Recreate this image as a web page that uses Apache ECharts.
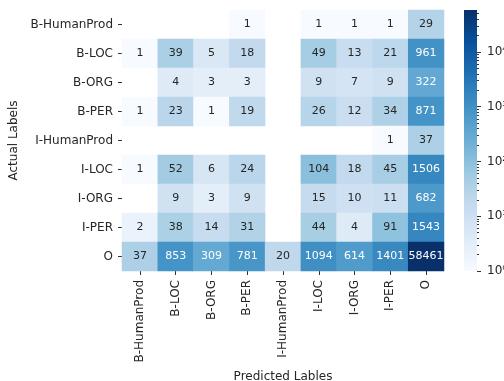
<!DOCTYPE html>
<html>
<head>
<meta charset="utf-8">
<script src="https://cdn.jsdelivr.net/npm/echarts@6/dist/echarts.min.js"></script>
<style>
  html, body { margin: 0; padding: 0; background: #ffffff; overflow: hidden; }
  #chart { width: 504px; height: 381px; }
</style>
</head>
<body>
<div id="chart"></div>
<script>
// Entity tag classes, used for both axes (predicted = columns, actual = rows)
const tagLabels = ['B-HumanProd', 'B-LOC', 'B-ORG', 'B-PER', 'I-HumanProd', 'I-LOC', 'I-ORG', 'I-PER', 'O'];

// Confusion counts, one array per actual label (0 = empty cell)
const actualBHumanProd = [0, 0, 0, 1, 0, 1, 1, 1, 29];
const actualBLOC       = [1, 39, 5, 18, 0, 49, 13, 21, 961];
const actualBORG       = [0, 4, 3, 3, 0, 9, 7, 9, 322];
const actualBPER       = [1, 23, 1, 19, 0, 26, 12, 34, 871];
const actualIHumanProd = [0, 0, 0, 0, 0, 0, 0, 1, 37];
const actualILOC       = [1, 52, 6, 24, 0, 104, 18, 45, 1506];
const actualIORG       = [0, 9, 3, 9, 0, 15, 10, 11, 682];
const actualIPER       = [2, 38, 14, 31, 0, 44, 4, 91, 1543];
const actualO          = [37, 853, 309, 781, 20, 1094, 614, 1401, 58461];

const countRows = [actualBHumanProd, actualBLOC, actualBORG, actualBPER, actualIHumanProd,
                   actualILOC, actualIORG, actualIPER, actualO];

// Colour bar decades (10^0 .. 10^4)
const colorbarDecades = [0, 1, 2, 3, 4];

// Matplotlib "Blues" colour map anchors
const blues = ['#f7fbff', '#deebf7', '#c6dbef', '#9ecae1', '#6baed6', '#4292c6', '#2171b5', '#08519c', '#08306b'];

const allCounts = countRows.flat().filter(v => v > 0);
const logMin = Math.log10(Math.min(...allCounts));
const logMax = Math.log10(Math.max(...allCounts));

function hexToRgb(h) {
  return [parseInt(h.slice(1, 3), 16), parseInt(h.slice(3, 5), 16), parseInt(h.slice(5, 7), 16)];
}
function bluesAt(t) {
  t = Math.max(0, Math.min(1, t));
  const pos = t * (blues.length - 1);
  const i = Math.min(Math.floor(pos), blues.length - 2);
  const f = pos - i;
  const a = hexToRgb(blues[i]), b = hexToRgb(blues[i + 1]);
  return a.map((c, k) => c + (b[k] - c) * f);
}
// Relative luminance decides dark or light annotation text
function luminance(rgb) {
  const lin = rgb.map(c => {
    c /= 255;
    return c <= 0.03928 ? c / 12.92 : Math.pow((c + 0.055) / 1.055, 2.4);
  });
  return 0.2126 * lin[0] + 0.7152 * lin[1] + 0.0722 * lin[2];
}

// Heatmap cells: [column, row, log10(count), count]; empty cells are left out
const cells = [];
countRows.forEach((row, r) => {
  row.forEach((v, c) => {
    if (v <= 0) return;
    const lv = Math.log10(v);
    const t = (lv - logMin) / (logMax - logMin);
    const lum = luminance(bluesAt(t));
    cells.push({
      value: [c, r, lv, v],
      label: { color: lum > 0.408 ? '#262626' : '#ffffff' }
    });
  });
});

// Minor ticks of the log colour bar: 2..9 x 10^n
const minorTicks = [];
for (let n = 0; n <= 4; n++) {
  for (let k = 2; k <= 9; k++) {
    const lv = Math.log10(k * Math.pow(10, n));
    if (lv < logMax) minorTicks.push(lv);
  }
}

const supDigits = ['\u2070', '\u00b9', '\u00b2', '\u00b3', '\u2074', '\u2075'];
const font = 'DejaVu Sans';
const textColor = '#262626';
const tickColor = '#333333';

const chart = echarts.init(document.getElementById('chart'), null, { renderer: 'canvas' });

// Colour bar fill: the same Blues ramp, bottom (1) to top (max)
const colorbarFill = new echarts.graphic.LinearGradient(0, 1, 0, 0,
  blues.map((c, i) => ({ offset: i / (blues.length - 1), color: c })));

chart.setOption({
  animation: false,
  backgroundColor: '#ffffff',
  textStyle: { fontFamily: font },
  grid: [
    { left: 122, top: 10, width: 322, height: 261, outerBoundsMode: 'none' },
    { left: 464, top: 10, width: 13, height: 261, outerBoundsMode: 'none' }
  ],
  xAxis: [
    {
      type: 'category',
      gridIndex: 0,
      data: tagLabels,
      name: 'Predicted Lables',
      nameLocation: 'middle',
      nameGap: 94,
      nameTextStyle: { fontFamily: font, fontSize: 12, color: textColor },
      axisLine: { show: false },
      axisTick: { show: true, alignWithLabel: true, length: 4, lineStyle: { color: tickColor } },
      axisLabel: { rotate: 90, margin: 9, fontFamily: font, fontSize: 12, color: textColor, interval: 0 },
      splitLine: { show: false }
    },
    {
      type: 'category',
      gridIndex: 1,
      data: ['scale'],
      show: false
    }
  ],
  yAxis: [
    {
      type: 'category',
      gridIndex: 0,
      data: tagLabels,
      inverse: true,
      name: 'Actual Labels',
      nameLocation: 'middle',
      nameGap: 93,
      nameRotate: 90,
      nameTextStyle: { fontFamily: font, fontSize: 12, color: textColor },
      axisLine: { show: false },
      axisTick: { show: true, alignWithLabel: true, length: 4, lineStyle: { color: tickColor } },
      axisLabel: { margin: 9, fontFamily: font, fontSize: 12, color: textColor, interval: 0 },
      splitLine: { show: false }
    },
    {
      type: 'value',
      gridIndex: 1,
      position: 'right',
      min: logMin, max: logMax,
      z: 10,
      axisLine: { show: false },
      splitLine: { show: false },
      axisTick: { show: true, customValues: colorbarDecades, length: 4, lineStyle: { color: tickColor } },
      axisLabel: {
        show: true, customValues: colorbarDecades, margin: 10,
        fontFamily: font, fontSize: 12, color: textColor,
        formatter: v => '10' + supDigits[Math.round(v)]
      }
    },
    {
      type: 'value',
      gridIndex: 1,
      position: 'right',
      offset: 0,
      min: logMin, max: logMax,
      z: 10,
      axisLine: { show: false },
      splitLine: { show: false },
      axisTick: { show: true, customValues: minorTicks, length: 2, lineStyle: { color: tickColor } },
      axisLabel: { show: false }
    }
  ],
  visualMap: {
    show: false,
    type: 'continuous',
    dimension: 2,
    min: logMin,
    max: logMax,
    seriesIndex: 0,
    inRange: { color: blues }
  },
  series: [
    {
      type: 'heatmap',
      xAxisIndex: 0,
      yAxisIndex: 0,
      data: cells,
      label: {
        show: true,
        fontFamily: font,
        fontSize: 11,
        formatter: p => String(p.value[3])
      },
      itemStyle: { borderWidth: 0 },
      emphasis: { disabled: true }
    },
    {
      type: 'bar',
      xAxisIndex: 1,
      yAxisIndex: 1,
      data: [logMax],
      barWidth: '100%',
      itemStyle: { color: colorbarFill },
      silent: true
    },
    {
      type: 'scatter',
      xAxisIndex: 1,
      yAxisIndex: 2,
      data: [],
      silent: true
    }
  ]
});
</script>
</body>
</html>
